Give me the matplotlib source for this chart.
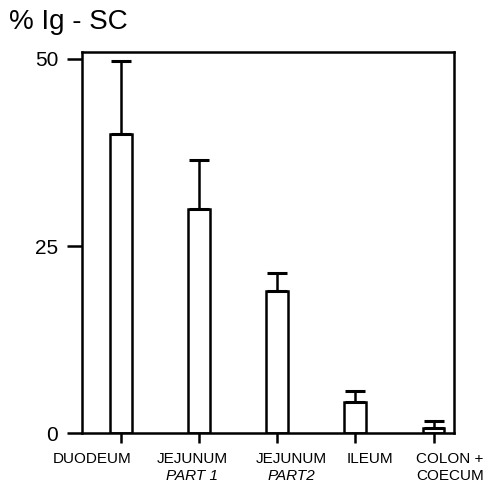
import numpy as np
import matplotlib
matplotlib.use('Agg')
import matplotlib.pyplot as plt
import matplotlib.transforms as mtransforms

plt.rcParams['font.family'] = ['Liberation Sans', 'DejaVu Sans']

# data
segments = ['DUODEUM', 'JEJUNUM', 'JEJUNUM', 'ILEUM', 'COLON +']
sublabels = ['', 'PART 1', 'PART2', '', 'COECUM']
sub_italic = [False, True, True, False, False]
means = [40.0, 30.0, 19.0, 4.2, 0.7]
err_up = [9.7, 6.5, 2.4, 1.4, 1.0]
yticks = [0, 25, 50]

# label offsets from tick (in bar units), the labels are not centred in the original
label_shift = [-0.37, -0.09, 0.18, 0.18, 0.21]

fig = plt.figure(figsize=(4.88, 4.87), dpi=100)
ax = fig.add_axes([0.168, 0.110, 0.762, 0.783])

x = np.arange(len(means))
ax.bar(x, means, width=0.28, color='white', edgecolor='black', linewidth=1.8,
       yerr=[np.zeros(len(err_up)), err_up], capsize=7.5,
       error_kw=dict(elinewidth=1.8, capthick=2.2, ecolor='black'))

ax.set_xlim(-0.50, 4.26)
ax.set_ylim(0, 50.9)
ax.set_yticks(yticks)
ax.set_yticklabels([str(v) for v in yticks], fontsize=15)
ax.set_xticks(x)
ax.set_xticklabels([])

for s in ax.spines.values():
    s.set_linewidth(1.8)
    s.set_color('black')

ax.tick_params(axis='y', direction='out', length=11, width=1.8, pad=6)
ax.tick_params(axis='x', direction='out', length=7, width=1.8)

trans = mtransforms.blended_transform_factory(ax.transData, ax.transAxes)
for i in range(len(segments)):
    xc = x[i] + label_shift[i]
    ax.text(xc, -0.048, segments[i], transform=trans, ha='center', va='top',
            fontsize=11, clip_on=False)
    if sublabels[i]:
        ax.text(xc, -0.093, sublabels[i], transform=trans, ha='center', va='top',
                fontsize=11, style='italic' if sub_italic[i] else 'normal',
                clip_on=False)

fig.text(0.018, 0.94, '% Ig - SC', fontsize=20, ha='left', va='baseline')

fig.savefig('out.png', dpi=100)
plt.close(fig)
